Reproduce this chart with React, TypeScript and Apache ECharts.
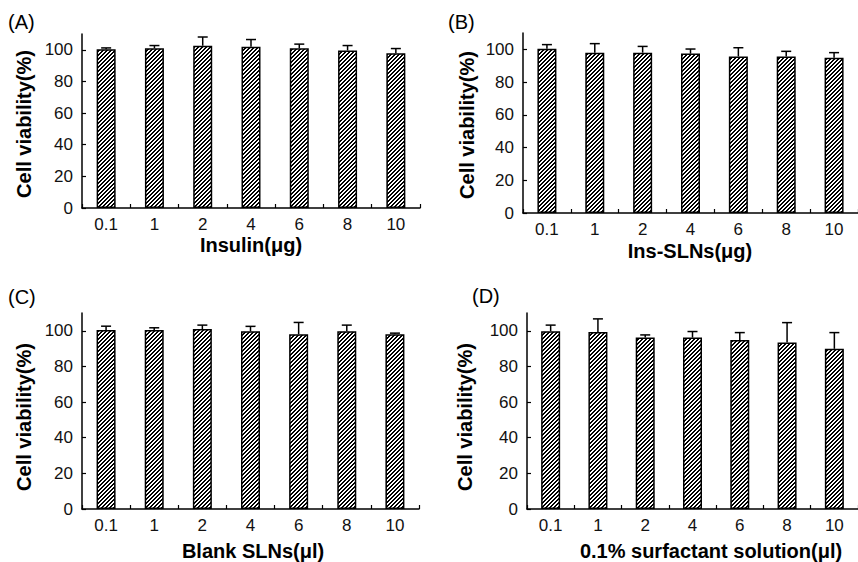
import React, { useEffect, useRef } from "react";
import * as echarts from "echarts";

const categories = ["0.1", "1", "2", "4", "6", "8", "10"];
const yTicks = [0, 20, 40, 60, 80, 100];

const insulinValues = [100.4, 101, 102.6, 101.9, 101, 99.6, 97.9];
const insulinErrors = [0.8, 1.7, 5.5, 4.6, 2.6, 3.1, 2.9];

const insSlnValues = [100.4, 98, 98, 97.4, 95.7, 95.7, 94.9];
const insSlnErrors = [2.5, 5.5, 3.8, 2.8, 5.3, 3.1, 3.1];

const blankValues = [100.4, 100.4, 101, 99.7, 98.1, 99.7, 98.1];
const blankErrors = [2.2, 1.3, 2.2, 2.8, 6.6, 3.5, 0.6];

const surfValues = [99.8, 99.3, 96.2, 96.2, 94.9, 93.4, 89.9];
const surfErrors = [3.4, 7.4, 1.5, 3.4, 4.1, 11.2, 9.1];

const panelLabels = ["(A)", "(B)", "(C)", "(D)"];
const xTitles = ["Insulin(μg)", "Ins-SLNs(μg)", "Blank SLNs(μl)", "0.1% surfactant solution(μl)"];
const yTitle = "Cell viability(%)";

const FONT = 'Arial, "Liberation Sans", Helvetica, sans-serif';

function makeHatch(): string {
  const c = document.createElement("canvas");
  c.width = 4;
  c.height = 4;
  const ctx = c.getContext("2d")!;
  const img = ctx.createImageData(4, 4);
  for (let y = 0; y < 4; y++) {
    for (let x = 0; x < 4; x++) {
      const i = (y * 4 + x) * 4;
      const k = (x + y) % 4;
      const v = k === 0 || k === 1 ? 0 : 255;
      img.data[i] = v;
      img.data[i + 1] = v;
      img.data[i + 2] = v;
      img.data[i + 3] = 255;
    }
  }
  ctx.putImageData(img, 0, 0);
  return c.toDataURL();
}

export default function App() {
  const ref = useRef<HTMLDivElement>(null);
  useEffect(() => {
    if (!ref.current) return;
    const chart = echarts.init(ref.current, undefined, { renderer: "svg" });
    const hatch = makeHatch();

    const grids = [
      { left: 82, top: 34, width: 338, height: 174 },
      { left: 523, top: 33, width: 340, height: 180 },
      { left: 82, top: 313, width: 337, height: 196 },
      { left: 527, top: 313, width: 336, height: 196 },
    ];
    const values = [insulinValues, insSlnValues, blankValues, surfValues];
    const errors = [insulinErrors, insSlnErrors, blankErrors, surfErrors];

    const xAxes = grids.map((_, i) => ({
      type: "category",
      gridIndex: i,
      data: categories,
      boundaryGap: true,
      axisLine: { show: true, lineStyle: { color: "#000", width: 1.5 } },
      axisTick: { show: true, inside: true, length: 4, lineStyle: { color: "#000", width: 1.2 } },
      axisLabel: { color: "#111", fontSize: 17, fontFamily: FONT, margin: 8 },
      splitLine: { show: false },
    }));
    const yAxes = grids.map((_, i) => ({
      type: "value",
      gridIndex: i,
      min: 0,
      max: 110,
      interval: 10,
      axisLine: { show: true, lineStyle: { color: "#000", width: 1.5 } },
      axisTick: {
        show: true,
        inside: true,
        length: 4,
        customValues: yTicks,
        lineStyle: { color: "#000", width: 1.2 },
      },
      axisLabel: { color: "#111", fontSize: 17, fontFamily: FONT, margin: 9, customValues: yTicks },
      splitLine: { show: false },
    }));

    const series: any[] = [];
    grids.forEach((_, i) => {
      series.push({
        type: "bar",
        xAxisIndex: i,
        yAxisIndex: i,
        data: values[i],
        barWidth: 19,
        z: 2,
        itemStyle: {
          color: { image: hatch, repeat: "repeat", imageWidth: 4, imageHeight: 4 },
          borderColor: "#000",
          borderWidth: 1.5,
        },
      });
      series.push({
        type: "custom",
        xAxisIndex: i,
        yAxisIndex: i,
        z: 3,
        data: values[i].map((v, j) => [j, v, errors[i][j]]),
        encode: { x: 0, y: 1 },
        renderItem: (params: any, api: any) => {
          const idx = api.value(0);
          const v = api.value(1);
          const e = api.value(2);
          const p0 = api.coord([idx, v]);
          const p1 = api.coord([idx, v + e]);
          const style = { stroke: "#000", lineWidth: 1.5 };
          return {
            type: "group",
            children: [
              { type: "line", shape: { x1: p0[0], y1: p0[1], x2: p1[0], y2: p1[1] }, style },
              { type: "line", shape: { x1: p1[0] - 5, y1: p1[1], x2: p1[0] + 5, y2: p1[1] }, style },
            ],
          };
        },
      });
    });

    const panelPos = [
      [8, 22],
      [448, 22],
      [8, 297],
      [472, 296],
    ];
    const yTitlePos = [
      [24, 124],
      [467, 125],
      [24, 417],
      [465, 417],
    ];
    const xTitlePos = [
      [251, 245],
      [690, 251],
      [253, 551],
      [711, 551],
    ];
    const graphics: any[] = [];
    panelPos.forEach((p, i) => {
      graphics.push({
        type: "text",
        x: p[0],
        y: p[1],
        style: { text: panelLabels[i], fontSize: 20, fontFamily: FONT, fill: "#000", align: "left", verticalAlign: "middle" },
      });
    });
    yTitlePos.forEach((p) => {
      graphics.push({
        type: "text",
        x: p[0],
        y: p[1],
        rotation: Math.PI / 2,
        style: { text: yTitle, fontSize: 20, fontWeight: "bold", fontFamily: FONT, fill: "#000", align: "center", verticalAlign: "middle" },
      });
    });
    xTitlePos.forEach((p, i) => {
      graphics.push({
        type: "text",
        x: p[0],
        y: p[1],
        style: { text: xTitles[i], fontSize: 20, fontWeight: "bold", fontFamily: FONT, fill: "#000", align: "center", verticalAlign: "middle" },
      });
    });

    chart.setOption({
      animation: false,
      backgroundColor: "#fff",
      grid: grids,
      xAxis: xAxes,
      yAxis: yAxes,
      series,
      graphic: graphics,
    } as any);
    return () => chart.dispose();
  }, []);
  return <div ref={ref} style={{ position: "fixed", left: 0, top: 0, width: 858, height: 562 }} />;
}
